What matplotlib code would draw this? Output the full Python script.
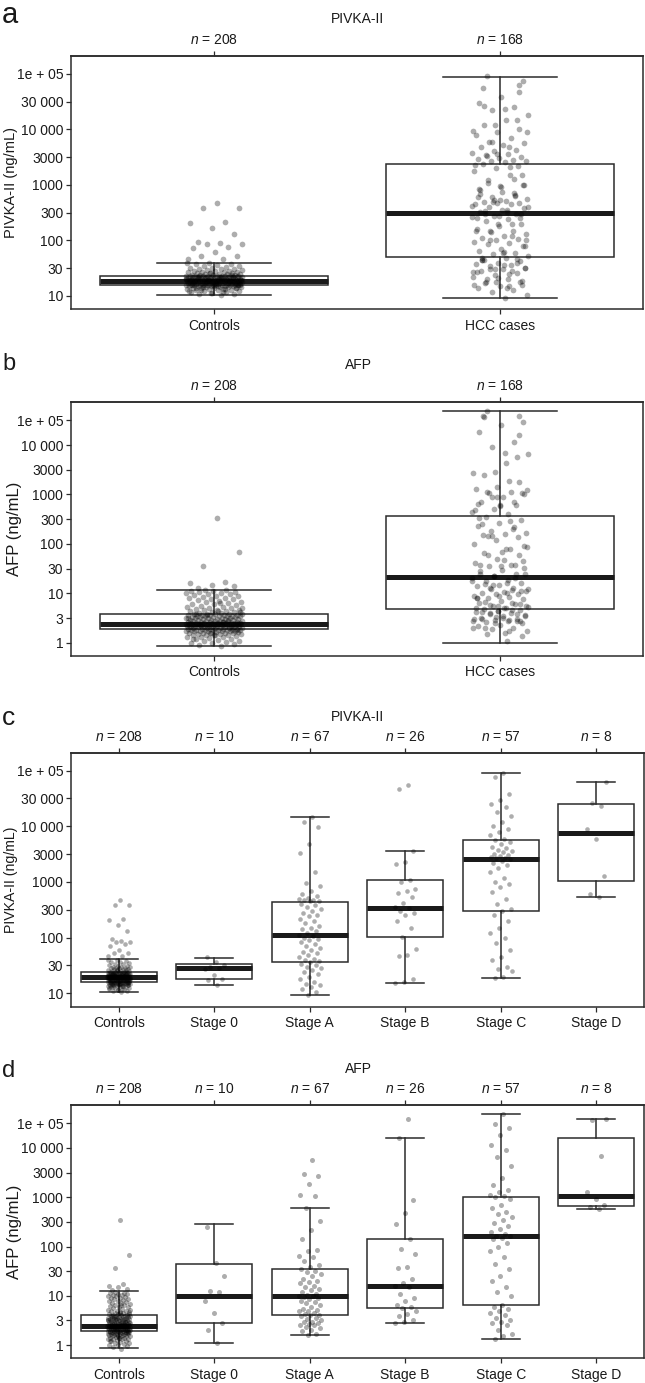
import numpy as np
import matplotlib
matplotlib.use("Agg")
import matplotlib.pyplot as plt
from matplotlib.ticker import NullLocator

plt.rcParams['font.family'] = ['Liberation Sans', 'DejaVu Sans']
plt.rcParams['mathtext.fontset'] = 'custom'
plt.rcParams['mathtext.it'] = 'Liberation Sans:italic'
plt.rcParams['mathtext.rm'] = 'Liberation Sans'

# ---------------- data ----------------
groups_ab = ["Controls", "HCC cases"]
groups_cd = ["Controls", "Stage 0", "Stage A", "Stage B", "Stage C", "Stage D"]

pivka_controls = [
    10.5, 11, 11, 11.5, 12, 12, 12.5, 12.5, 13, 13,
    13, 13.5, 13.5, 13.5, 14, 14, 14, 14, 14.5, 14.5,
    14.5, 14.5, 15, 15, 15, 15, 15, 15.5, 15.5, 15.5,
    15.5, 15.5, 15.5, 16, 16, 16, 16, 16, 16, 16,
    16, 16.5, 16.5, 16.5, 16.5, 16.5, 17, 17, 17, 17,
    17, 17, 17.5, 17.5, 17.5, 17.5, 17.5, 18, 18, 18,
    18, 18, 18, 18, 18.5, 18.5, 18.5, 18.5, 18.5, 18.5,
    19, 19, 19, 19, 19, 19, 19, 19, 19, 19,
    19, 19, 19.5, 19.5, 19.5, 19.5, 19.5, 20, 20, 20,
    20, 20, 20, 20, 20.5, 20.5, 20.5, 20.5, 21, 21,
    21, 21, 21, 21, 21.5, 21.5, 21.5, 21.5, 22, 22,
    22, 22, 22, 22, 22.5, 22.5, 22.5, 22.5, 23, 23,
    23, 23, 23, 23, 23.5, 23.5, 24, 24, 24.5, 24.5,
    25, 25, 25.5, 26, 26, 26.5, 27, 27, 27.5, 28,
    28, 28.5, 29, 29.5, 30, 30, 31, 31.5, 32, 33,
    34, 35, 36, 37, 38, 39, 40, 12, 13, 14,
    15, 16, 17, 18, 19, 20, 21, 22, 11.5, 12.5,
    13.5, 14.5, 15.5, 16.5, 17.5, 18.5, 19.5, 20.5, 21.5, 22.5,
    17, 18, 19, 20, 21, 16, 15, 14, 24, 26,
    47, 47, 52, 53, 61, 72, 77, 85, 85, 88,
    95, 129, 166, 204, 218, 380, 390, 480]

pivka_stage0 = [14, 17, 18, 21, 27, 28, 30, 32, 36, 44]
pivka_stageA = [
    14900, 12000, 9500, 4800, 3300, 1500, 950, 850, 700, 600, 550, 520, 500, 480, 470, 460, 450,
    400, 380, 350, 320, 300, 280, 260, 240, 220, 200, 180, 160, 150, 140, 130, 120,
    112,
    105, 100, 95, 90, 85, 78, 70, 64, 60, 56, 52, 48, 45, 42, 40, 38,
    36, 34, 32, 30, 28, 26, 24, 22, 20, 18, 16, 15, 14, 13, 12, 10.5, 9.3]
pivka_stageB = [55000, 47000, 3565, 2300, 2100, 1100, 1000, 750, 680, 620, 540, 420, 350,
                345, 300, 280, 250, 200, 150, 101, 62, 48, 46, 18, 16, 15.3]
pivka_stageC = [
    92000, 75000, 38000, 30000, 25000, 22000, 18000, 15000, 12000, 10000, 9000, 8000, 7000, 6000,
    5690, 5200, 4800, 4300, 4000, 3800, 3600, 3400, 3200, 3000, 2900, 2800, 2700, 2650,
    2590,
    2400, 2200, 2000, 1800, 1500, 1200, 1000, 900, 800, 650, 500, 400, 320,
    297, 250, 200, 150, 120, 100, 80, 60, 45, 40, 30, 27, 25, 20, 18.8]
pivka_stageD = [537, 600, 1300, 6000, 9000, 23000, 26000, 62700]

afp_controls = [
    0.85, 0.9, 0.95, 1.0, 1.0, 1.05, 1.1, 1.1, 1.15, 1.2,
    1.2, 1.25, 1.3, 1.3, 1.3, 1.35, 1.4, 1.4, 1.4, 1.45,
    1.5, 1.5, 1.5, 1.55, 1.55, 1.6, 1.6, 1.6, 1.65, 1.65,
    1.7, 1.7, 1.7, 1.7, 1.75, 1.75, 1.75, 1.8, 1.8, 1.8,
    1.8, 1.85, 1.85, 1.85, 1.85, 1.9, 1.9, 1.9, 1.9, 1.9,
    1.95, 1.95, 2.0, 2.0, 2.0, 2.0, 2.05, 2.05, 2.1, 2.1,
    2.1, 2.1, 2.15, 2.15, 2.2, 2.2, 2.2, 2.2, 2.25, 2.25,
    2.25, 2.3, 2.3, 2.3, 2.3, 2.35, 2.35, 2.35, 2.35, 2.35,
    2.4, 2.4, 2.4, 2.4, 2.4, 2.4, 2.4, 2.4, 2.4, 2.4,
    2.4, 2.45, 2.45, 2.45, 2.5, 2.5, 2.5, 2.5, 2.55, 2.55,
    2.6, 2.6, 2.6, 2.65, 2.65, 2.7, 2.7, 2.7, 2.75, 2.8,
    2.8, 2.85, 2.9, 2.9, 2.95, 3.0, 3.0, 3.0, 3.05, 3.1,
    3.1, 3.15, 3.2, 3.2, 3.25, 3.3, 3.3, 3.35, 3.4, 3.4,
    3.45, 3.5, 3.5, 3.55, 3.6, 3.6, 3.65, 3.7, 3.7, 3.75,
    3.8, 3.8, 3.8, 3.9, 4.0, 4.0, 4.1, 4.2, 4.3, 4.4,
    4.5, 4.6, 4.7, 4.8, 5.0, 5.0, 5.2, 5.4, 5.6, 5.8,
    6.0, 6.2, 6.4, 6.6, 6.8, 7.0, 7.2, 7.5, 7.8, 8.0,
    8.2, 8.5, 8.8, 9.0, 9.2, 9.5, 9.8, 10.0, 10.2, 10.5,
    10.8, 11.0, 11.2, 11.5, 11.8, 4.2, 4.4, 3.9, 2.0, 1.6,
    3.2, 2.6, 2.2, 1.8, 1.4, 1.2, 2.9, 3.6, 5.1, 6.5,
    13, 14, 15, 16, 17, 36, 68, 340]

afp_stage0 = [1.1, 2.0, 2.8, 4.4, 8.0, 11.8, 12.7, 25, 47, 250]
afp_stageA = [
    5700, 2900, 2700, 1850, 1100, 1050,
    605, 330, 220, 145, 85, 80, 65, 60, 50, 42, 38,
    35, 32, 30, 28, 25, 22, 20, 19, 18, 16, 15, 14, 13, 12, 11, 10.5,
    10.1,
    9.8, 9.5, 9, 8.5, 8, 7.5, 7, 6.5, 6, 5.5, 5.2, 5, 4.8, 4.5, 4.3, 4.1,
    4.0, 3.8, 3.6, 3.4, 3.2, 3.0, 2.9, 2.8, 2.7, 2.6, 2.5, 2.3, 2.2, 2.0, 1.9, 1.7, 1.57]
afp_stageB = [38900, 16000, 870, 480, 290, 143, 90, 70, 38, 37, 22, 18, 16,
              15.2, 11, 9, 8, 6.5, 5.8, 5.6, 5, 4.2, 3.8, 3.3, 3.0, 2.86]
afp_stageC = [
    49700, 30000, 25700, 18000, 11700, 9000, 6700, 4300, 2500, 1800, 1400, 1300, 1100, 1050,
    1000, 900, 700, 600, 500, 450, 400, 350, 300, 260, 230, 200, 180, 165,
    160,
    150, 140, 120, 100, 80, 60, 45, 35, 25, 20, 15, 12, 10,
    6.6, 6.0, 5.5, 5.0, 4.5, 4.0, 3.5, 3.2, 3.0, 2.8, 2.5, 2.0, 1.7, 1.5, 1.34]
afp_stageD = [590, 640, 700, 900, 1250, 6800, 37000, 39300]

# box statistics: [whisker low, Q1, median, Q3, whisker high]
pivka_box_ab = [[10.5, 15.8, 18.6, 22.6, 39.3],
                [9.3, 51, 309, 2390, 89000]]
afp_box_ab = [[0.85, 1.89, 2.39, 3.81, 11.8],
              [1.0, 4.74, 21.4, 372, 50000]]
pivka_box_cd = [[10.6, 16.0, 19.4, 24.2, 40.8],
                [14.1, 18.3, 28.8, 33.2, 43.6],
                [9.3, 37, 112, 443, 14900],
                [15.3, 101, 345, 1099, 3565],
                [18.8, 297, 2590, 5690, 92000],
                [537, 1042, 7590, 24900, 62700]]
afp_box_cd = [[0.88, 1.92, 2.45, 4.16, 12.7],
              [1.08, 2.82, 9.9, 43.4, 283],
              [1.57, 4.04, 10.1, 35.4, 605],
              [2.86, 5.77, 15.6, 143, 16000],
              [1.34, 6.6, 160, 1028, 49700],
              [588, 654, 1076, 15700, 39300]]

pivka_ticks = [10, 31.62, 100, 316.2, 1000, 3162, 10000, 31623, 100000]
pivka_ticklabels = ["10", "30", "100", "300", "1000", "3000", "10 000", "30 000", "1e + 05"]
afp_ticks = [1, 3.162, 10, 31.62, 100, 316.2, 1000, 3162, 10000, 31623]
afp_ticklabels = ["1", "3", "10", "30", "100", "300", "1000", "3000", "10 000", "1e + 05"]

pivka_stages = [pivka_stage0, pivka_stageA, pivka_stageB, pivka_stageC, pivka_stageD]
afp_stages = [afp_stage0, afp_stageA, afp_stageB, afp_stageC, afp_stageD]
pivka_hcc = [v for s in pivka_stages for v in s]
afp_hcc = [v for s in afp_stages for v in s]

# ---------------- drawing ----------------
W, H = 645, 1383
fig = plt.figure(figsize=(W / 100, H / 100), dpi=100)
EDGE = "#2b2b2b"
TXT = "#1a1a1a"


def add_axes_px(left, top, right, bottom):
    return fig.add_axes([left / W, 1 - bottom / H, (right - left) / W, (bottom - top) / H])


def jitter_offsets(n, w):
    k = np.arange(1, n + 1)
    return ((k * 0.6180339887) % 1.0 - 0.5) * 2 * w


def panel(ax, cats, values, boxes, ylim, ticks, ticklabels, ylabel, ylsize, ylx,
          jit, msize):
    pos = np.arange(1, len(cats) + 1)
    stats = [dict(whislo=b[0], q1=b[1], med=b[2], q3=b[3], whishi=b[4], fliers=[])
             for b in boxes]
    ax.set_yscale("log")
    ax.bxp(stats, positions=pos, widths=0.8, capwidths=0.4, showfliers=False,
           patch_artist=True, manage_ticks=False, zorder=2,
           boxprops=dict(facecolor="white", edgecolor=EDGE, linewidth=1.1),
           whiskerprops=dict(color=EDGE, linewidth=1.1),
           capprops=dict(color=EDGE, linewidth=1.1),
           medianprops=dict(color=TXT, linewidth=3.6, solid_capstyle="butt"))
    for p, vals in zip(pos, values):
        xs = p + jitter_offsets(len(vals), jit)
        ax.scatter(xs, vals, s=msize, color="black", alpha=0.32, linewidths=0, zorder=3)
    ax.set_xlim(0.5, len(cats) + 0.5)
    ax.set_ylim(*ylim)
    ax.set_yticks(ticks)
    ax.set_yticklabels(ticklabels)
    ax.yaxis.set_minor_locator(NullLocator())
    ax.set_xticks(pos)
    ax.set_xticklabels(cats)
    ax.tick_params(axis="both", length=3.5, width=0.9, color=EDGE, labelsize=10,
                   labelcolor=TXT)
    ax.tick_params(axis="y", pad=2)
    ax.tick_params(axis="x", pad=3.5)
    for sp in ax.spines.values():
        sp.set_linewidth(1.1)
        sp.set_color(EDGE)
    ax.set_ylabel(ylabel, fontsize=ylsize, color=TXT)
    ax.yaxis.set_label_coords(ylx, 0.5)
    sec = ax.secondary_xaxis("top")
    sec.set_xticks(pos)
    sec.set_xticklabels([f"$n$ = {len(v)}" for v in values])
    sec.tick_params(length=3.5, width=0.9, color=EDGE, labelsize=10, pad=3,
                    labelcolor=TXT)
    sec.spines["top"].set_linewidth(1.1)
    sec.spines["top"].set_color(EDGE)


ax_a = add_axes_px(71, 56, 643, 309.3)
panel(ax_a, groups_ab, [pivka_controls, pivka_hcc], pivka_box_ab,
      (5.75, 2.09e5), pivka_ticks, pivka_ticklabels, "PIVKA-II (ng/mL)", 10.5, -0.093,
      0.1, 17)

ax_b = add_axes_px(71, 402, 643, 655.7)
panel(ax_b, groups_ab, [afp_controls, afp_hcc], afp_box_ab,
      (0.546, 74500), afp_ticks, afp_ticklabels, "AFP (ng/mL)", 12, -0.086,
      0.1, 17)

ax_c = add_axes_px(71, 752.7, 644, 1006.7)
panel(ax_c, groups_cd, [pivka_controls] + pivka_stages, pivka_box_cd,
      (5.75, 2.09e5), pivka_ticks, pivka_ticklabels, "PIVKA-II (ng/mL)", 10.2, -0.093,
      0.12, 11)

ax_d = add_axes_px(71, 1105, 644, 1358)
panel(ax_d, groups_cd, [afp_controls] + afp_stages, afp_box_cd,
      (0.546, 74500), afp_ticks, afp_ticklabels, "AFP (ng/mL)", 12, -0.086,
      0.12, 13)

# titles
for title, base in [("PIVKA-II", 22.7), ("AFP", 369.3), ("PIVKA-II", 720.7), ("AFP", 1072.7)]:
    fig.text(358 / W, 1 - base / H, title, ha="center", va="baseline", fontsize=10, color=TXT)

# panel letters
for letter, base, fs in [("a", 23, 21), ("b", 370, 17), ("c", 725, 19), ("d", 1076.7, 17)]:
    fig.text(2 / W, 1 - base / H, letter, ha="left", va="baseline", fontsize=fs, color=TXT)

fig.savefig("out.png", dpi=100)
